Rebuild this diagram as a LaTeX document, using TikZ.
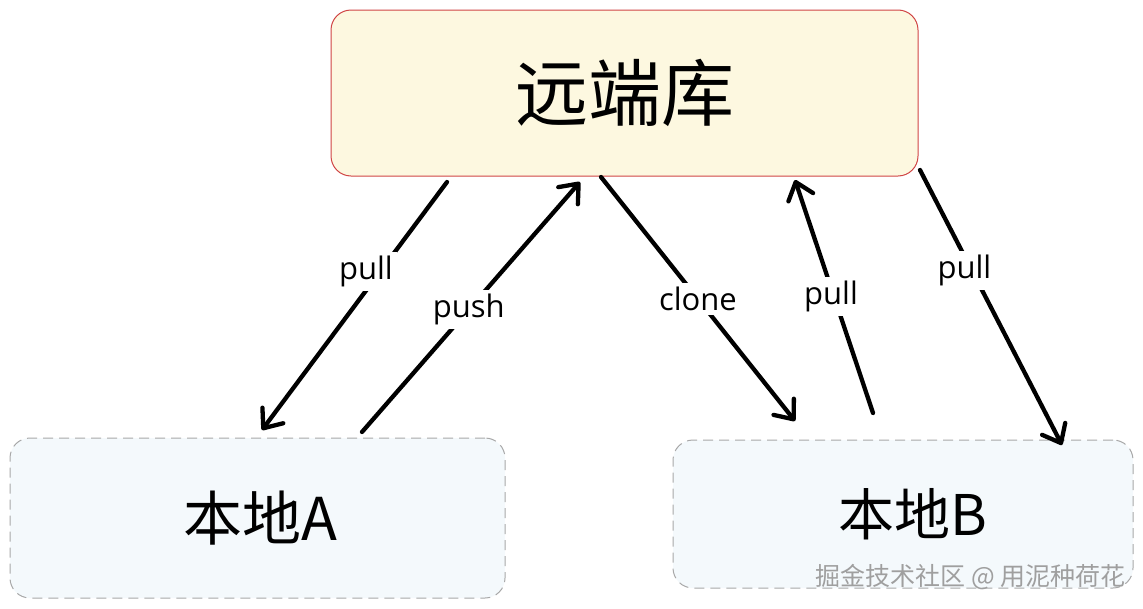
\documentclass[tikz,border=0pt]{standalone}
\usepackage{fontspec}
\setmainfont{Open Sans}
\newfontfamily\cjk{Noto Sans CJK SC}
\usetikzlibrary{arrows.meta}
\definecolor{remotefill}{HTML}{FDF8E0}
\definecolor{remoteline}{HTML}{D04545}
\definecolor{localfill}{HTML}{F4F9FC}
\definecolor{localline}{HTML}{A8A8A8}
\tikzset{
  repo/.style={rounded corners=20pt,line width=1pt,inner sep=0pt},
  flow/.style={line width=4.3pt,line cap=round,-{Straight Barb[length=16pt,width=26pt,line cap=round,line join=round]}},
  lbl/.style={fill=white,inner sep=4pt,font=\fontsize{31}{33}\selectfont}
}

\begin{document}
\begin{tikzpicture}[x=1pt,y=-1pt]
\useasboundingbox (0,0) rectangle (1143,608);
% repositories
\node[repo,draw=remoteline,fill=remotefill,minimum width=587pt,minimum height=166pt] (remote) at (624.5,93) {\cjk\fontsize{73}{80}\selectfont 远端库};
\node[repo,draw=localline,fill=localfill,dashed,dash pattern=on 10pt off 6pt,minimum width=495pt,minimum height=160pt] (locA) at (257.5,518) {\cjk\fontsize{59}{62}\selectfont\hspace*{6pt}本地A};
\node[repo,draw=localline,fill=localfill,dashed,dash pattern=on 10pt off 6pt,minimum width=460pt,minimum height=148pt] (locB) at (903,514) {\cjk\fontsize{56}{62}\selectfont\hspace*{20pt}本地B};
% arrow ends
\coordinate (aPullS) at (447,182); \coordinate (aPullE) at (262,430);
\coordinate (aPushS) at (362,432); \coordinate (aPushE) at (580,182);
\coordinate (bCloneS) at (601,177); \coordinate (bCloneE) at (795,421);
\coordinate (bUpS) at (873,413); \coordinate (bUpE) at (795,180);
\coordinate (bDownS) at (920,170); \coordinate (bDownE) at (1062,445);
% arrows
\draw[flow] (aPullS) -- node[lbl,pos=0.39,xshift=-9pt,yshift=7pt] (lPullA) {pull} (aPullE);
\draw[flow] (aPushS) -- node[lbl,pos=0.49] (lPush) {push} (aPushE);
\draw[flow] (bCloneS) -- node[lbl,pos=0.5] (lClone) {clone} (bCloneE);
\draw[flow] (bUpS) -- node[lbl,pos=0.5,xshift=-3pt] (lPullB) {pull} (bUpE);
\draw[flow] (bDownS) -- node[lbl,pos=0.39,xshift=-11pt,yshift=7pt] (lPullR) {pull} (bDownE);
% watermark
\node[text=gray!75,anchor=east,inner sep=0pt] (mark) at (1126,577) {\cjk\fontsize{25}{27}\selectfont 掘金技术社区\ @\ 用泥种荷花};
\end{tikzpicture}
\end{document}
